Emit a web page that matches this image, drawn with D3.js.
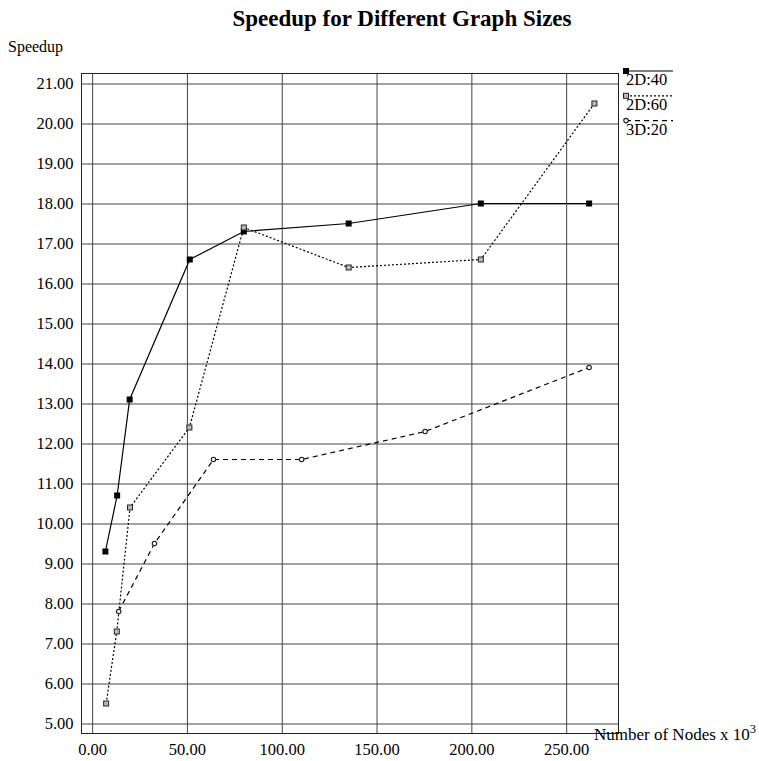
<!DOCTYPE html>
<html>
<head>
<meta charset="utf-8">
<script src="https://cdn.jsdelivr.net/npm/d3@7"></script>
<style>
  body { margin: 0; background: #fff; }
  svg { display: block; font-family: 'Liberation Serif', 'Times New Roman', serif; }
  .grid line { stroke: #444; stroke-width: 1; }
  .grid path { display: none; }
</style>
</head>
<body>
<div id="chart"></div>
<script>
// data
var x2D40 = [7.0, 13.2, 19.8, 51.5, 80, 135.3, 205, 262.1]
var y2D40 = [9.3, 10.7, 13.1, 16.6, 17.3, 17.5, 18.0, 18.0]

var x2D60 = [7.4, 13.0, 20.0, 51.3, 80, 135.3, 205, 264.9]
var y2D60 = [5.5, 7.3, 10.4, 12.4, 17.4, 16.4, 16.6, 20.5]

var x3D20 = [14.0, 32.9, 64, 110.5, 175.6, 262.1]
var y3D20 = [7.8, 9.5, 11.6, 11.6, 12.3, 13.9]

var seriesNames = ['2D:40', '2D:60', '3D:20']
var xTicks = [0, 50, 100, 150, 200, 250]
var yTicks = [5, 6, 7, 8, 9, 10, 11, 12, 13, 14, 15, 16, 17, 18, 19, 20, 21]

var serif = "'Liberation Serif', 'Times New Roman', serif"

var margin = { top: 73.5, left: 81.5, right: 140.5, bottom: 27.5 }
var width = 759 - margin.left - margin.right
var height = 761 - margin.top - margin.bottom

var svg = d3
  .select('#chart')
  .append('svg')
  .attr('width', 759)
  .attr('height', 761)

var g = svg
  .append('g')
  .attr('transform', `translate(${margin.left},${margin.top})`)

let xPositionScale = d3
  .scaleLinear()
  .domain([-5.6, 277.6])
  .range([0, width])

let yPositionScale = d3
  .scaleLinear()
  .domain([4.75, 21.25])
  .range([height, 0])

/* grid + axes */
var yAxis = d3
  .axisLeft(yPositionScale)
  .tickValues(yTicks)
  .tickSize(-width)
  .tickPadding(8)
  .tickFormat(d3.format('.2f'))
g.append('g')
  .attr('class', 'axis grid y-axis')
  .call(yAxis)
  .attr('font-family', serif)
  .attr('font-size', 16.5)

var xAxis = d3
  .axisBottom(xPositionScale)
  .tickValues(xTicks)
  .tickSize(-height)
  .tickPadding(10)
  .tickFormat(d3.format('.2f'))
g.append('g')
  .attr('class', 'axis grid x-axis')
  .attr('transform', 'translate(0,' + height + ')')
  .call(xAxis)
  .attr('font-family', serif)
  .attr('font-size', 16.5)

g.selectAll('.axis text').attr('fill', '#000')

// frame
g.append('rect')
  .attr('x', 0)
  .attr('y', 0)
  .attr('width', width)
  .attr('height', height)
  .attr('fill', 'none')
  .attr('stroke', '#222')
  .attr('stroke-width', 1)

var series = [
  { name: seriesNames[0], xs: x2D40, ys: y2D40, dash: null, marker: 'filled' },
  { name: seriesNames[1], xs: x2D60, ys: y2D60, dash: '2,2', marker: 'open' },
  { name: seriesNames[2], xs: x3D20, ys: y3D20, dash: '5,4', marker: 'circle' }
]

var line = d3
  .line()
  .x(d => xPositionScale(d[0]))
  .y(d => yPositionScale(d[1]))

function drawMarker(sel, type) {
  if (type === 'filled') {
    sel.append('rect')
      .attr('x', -3).attr('y', -3)
      .attr('width', 6).attr('height', 6)
      .attr('fill', '#000')
  } else if (type === 'open') {
    sel.append('rect')
      .attr('x', -2.5).attr('y', -2.5)
      .attr('width', 5).attr('height', 5)
      .attr('fill', '#bbb')
      .attr('stroke', '#222')
      .attr('stroke-width', 1)
  } else {
    sel.append('circle')
      .attr('r', 2.2)
      .attr('fill', '#fff')
      .attr('stroke', '#222')
      .attr('stroke-width', 1.2)
  }
}

series.forEach(function(s) {
  var pts = s.xs.map((x, i) => [x, s.ys[i]])
  g.append('path')
    .datum(pts)
    .attr('d', line)
    .attr('fill', 'none')
    .attr('stroke', '#000')
    .attr('stroke-width', 1.2)
    .attr('stroke-dasharray', s.dash)

  g.selectAll(null)
    .data(pts)
    .enter()
    .append('g')
    .attr('transform', d => `translate(${xPositionScale(d[0])},${yPositionScale(d[1])})`)
    .each(function() {
      drawMarker(d3.select(this), s.marker)
    })
})

/* legend */
var legend = svg
  .selectAll('.legend')
  .data(series)
  .enter()
  .append('g')
  .attr('class', 'legend')
  .attr('transform', (d, i) => `translate(626,${71 + i * 24.8})`)

legend.append('line')
  .attr('x1', 0).attr('x2', 47)
  .attr('y1', 0).attr('y2', 0)
  .attr('stroke', '#000')
  .attr('stroke-width', 1.2)
  .attr('stroke-dasharray', d => d.dash)

legend.each(function(d) {
  drawMarker(d3.select(this), d.marker)
})

legend.append('text')
  .attr('x', 0)
  .attr('y', 14)
  .attr('font-size', 16.5)
  .text(d => d.name)

/* titles */
svg.append('text')
  .attr('x', 402)
  .attr('y', 26)
  .attr('text-anchor', 'middle')
  .attr('font-size', 23)
  .attr('font-weight', 'bold')
  .text('Speedup for Different Graph Sizes')

svg.append('text')
  .attr('x', 8)
  .attr('y', 52)
  .attr('font-size', 16)
  .text('Speedup')

var xt = svg.append('text')
  .attr('x', 594)
  .attr('y', 740)
  .attr('font-size', 17)
xt.append('tspan').text('Number of Nodes x 10')
xt.append('tspan').attr('dy', -7).attr('font-size', 12.5).text('3')
</script>
</body>
</html>
